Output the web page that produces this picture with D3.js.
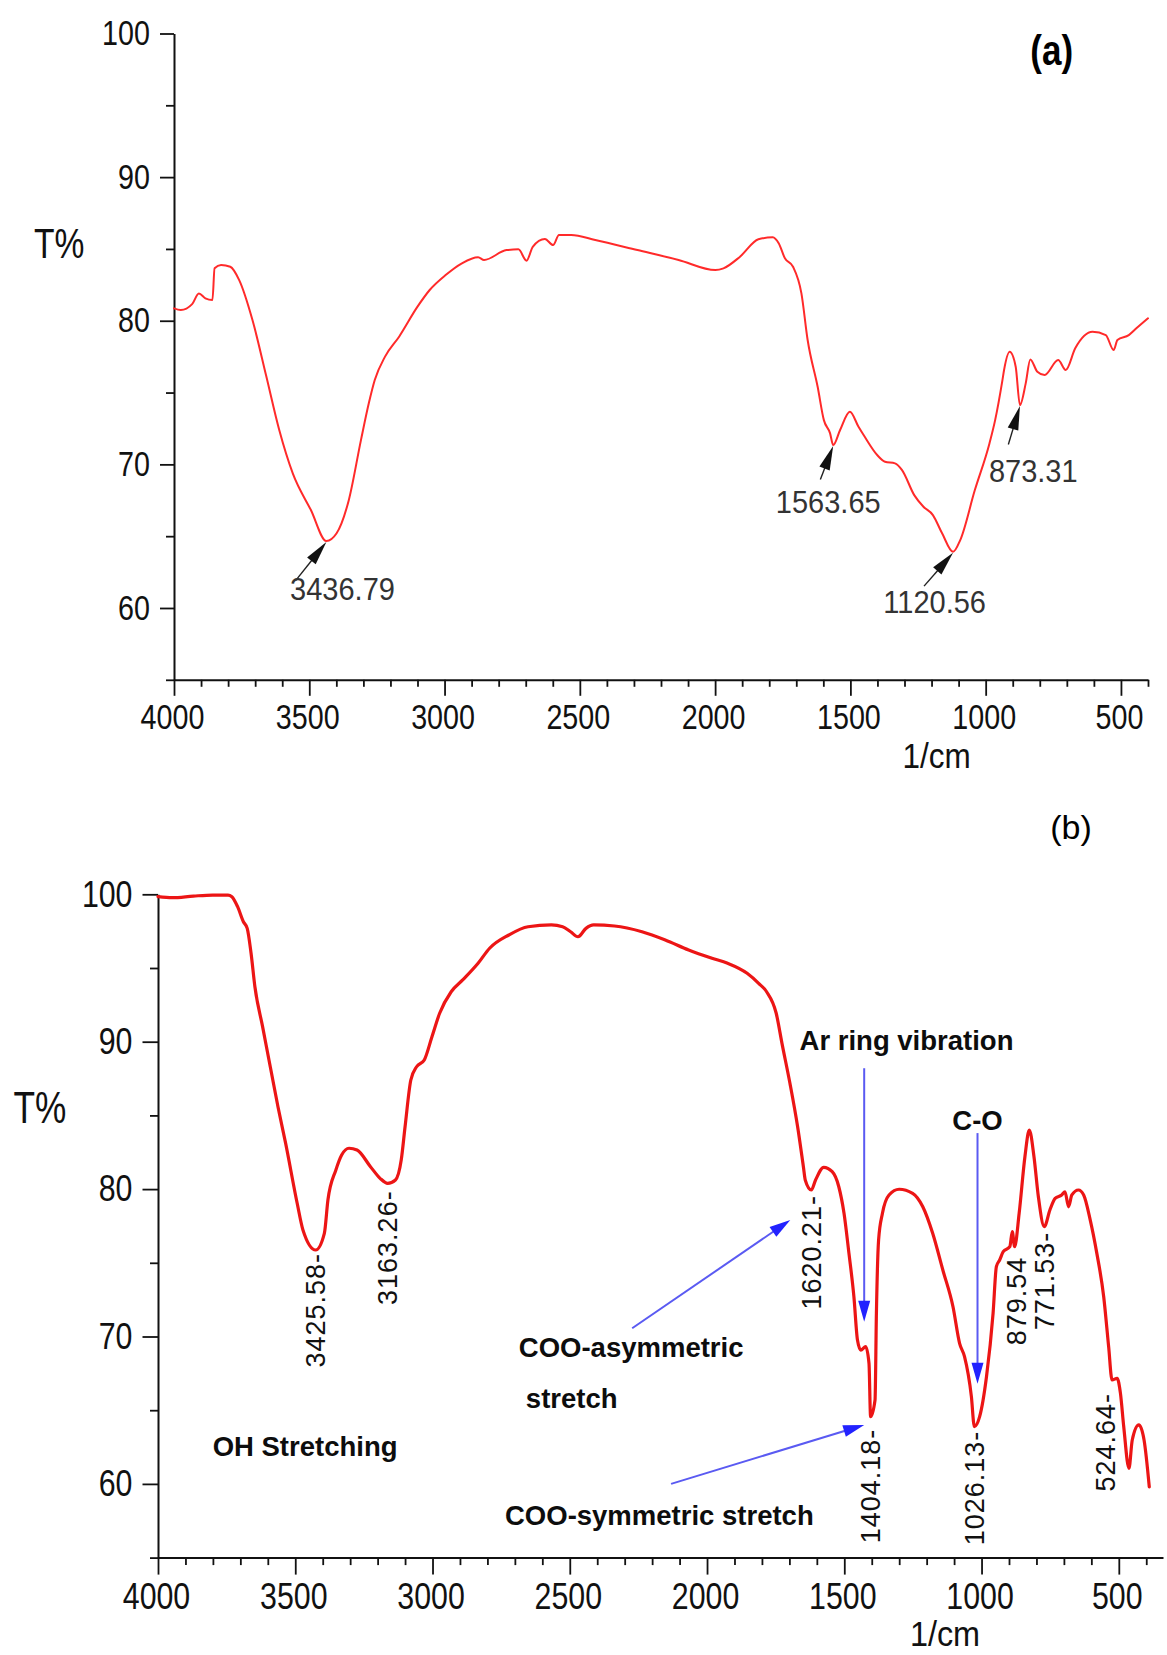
<!DOCTYPE html>
<html>
<head>
<meta charset="utf-8">
<script src="https://cdn.jsdelivr.net/npm/d3@7"></script>
<style>
  html, body { margin: 0; padding: 0; background: #fff; }
  svg { display: block; }
  text { font-family: "Liberation Sans", Arial, Helvetica, sans-serif; }
</style>
</head>
<body>
<svg id="chart" width="1167" height="1655"></svg>
<script>
// ---------- data ----------
// (a) FTIR spectrum: [wavenumber 1/cm, transmittance %]
const spectrumA = [[4000,80.86],[3975,80.75],[3933,81.16],[3908,81.9],[3884,81.56],[3858,81.44],[3850,83.65],[3826,83.88],[3792,83.76],[3759,82.83],[3710,80.05],[3660,76.22],[3611,72.39],[3561,69.37],[3494,66.82],[3436.79,64.66],[3399,65.2],[3354,67.51],[3309,71.69],[3280,74.25],[3258,75.87],[3220,77.5],[3168,78.89],[3100,80.98],[3055,82.14],[2996,83.18],[2936,84.0],[2876,84.42],[2854,84.23],[2771,84.92],[2727,84.97],[2697,84.18],[2674,85.15],[2629,85.69],[2599,85.27],[2577,85.97],[2532,85.97],[2443,85.62],[2287,84.92],[2135,84.23],[1999,83.53],[1969,83.65],[1908,84.46],[1840,85.67],[1787,85.81],[1765,85.39],[1742,84.35],[1712,83.76],[1681,81.91],[1658,78.66],[1621,75.4],[1598,73.08],[1575,72.16],[1563.65,71.34],[1538,72.39],[1502,73.66],[1470,72.62],[1447,71.92],[1401,70.65],[1372,70.18],[1335,70.07],[1309,69.6],[1264,67.86],[1230,67.05],[1195,66.47],[1161,65.2],[1120.56,63.91],[1094,64.73],[1040,68.21],[986,71.46],[965,73.08],[938,75.87],[932,76.57],[911,77.84],[889,76.8],[873.31,74.13],[852,75.64],[835,77.31],[809,76.45],[782,76.22],[732,77.26],[704,76.57],[669,78.08],[605,79.23],[556,79.0],[527,77.96],[513,78.66],[471,79.0],[443,79.47],[400,80.17]];

// (b) FTIR spectrum: [wavenumber 1/cm, transmittance %]
const spectrumB = [[4000,99.84],[3948,99.77],[3871,99.88],[3801,99.95],[3745,99.95],[3731,99.84],[3710,99.16],[3689,98.14],[3675,97.69],[3661,96.0],[3647,93.73],[3619,91.02],[3591,88.3],[3563,85.59],[3535,83.1],[3493,79.04],[3472,77.23],[3425.58,75.87],[3394,77.0],[3381,79.26],[3352,81.3],[3331,82.31],[3304,82.77],[3275,82.65],[3226,81.52],[3191,80.73],[3163.26,80.39],[3135,80.62],[3114,81.97],[3100,84.23],[3079,87.4],[3058,88.3],[3030,88.76],[3002,90.34],[2974,91.93],[2932,93.39],[2890,94.19],[2834,95.32],[2792,96.34],[2722,97.24],[2652,97.8],[2567,97.92],[2526,97.8],[2497,97.46],[2470,97.12],[2441,97.69],[2413,97.92],[2337,97.85],[2237,97.46],[2152,96.9],[2067,96.22],[1982,95.66],[1925,95.32],[1854,94.64],[1812,93.96],[1783,93.39],[1748,91.93],[1727,89.89],[1698,87.18],[1670,84.23],[1649,81.52],[1642,80.6],[1620.21,79.94],[1605,80.6],[1575,81.48],[1544,81.18],[1520,80.16],[1501,78.36],[1483,75.64],[1465,72.7],[1452,69.76],[1440,69.08],[1422,69.31],[1410,68.18],[1404.18,64.56],[1388,65.69],[1383,71.57],[1375,76.55],[1361,78.36],[1337,79.6],[1300,79.99],[1251,79.71],[1214,78.8],[1178,77.0],[1141,74.51],[1104,72.02],[1080,69.54],[1062,68.63],[1037,65.92],[1026.13,63.88],[1007,64.56],[982,67.27],[958,71.57],[946,74.74],[934,75.19],[921,75.75],[897,76.09],[888,77.11],[879.54,76.09],[863,78.36],[842,82.2],[826,84.01],[809,82.2],[793,79.48],[771.53,77.45],[751,78.58],[732,79.37],[708,79.6],[696,79.82],[683,78.8],[671,79.6],[647,79.94],[628,79.6],[604,77.9],[580,75.64],[555,72.7],[537,69.31],[524.64,67.05],[506,67.16],[494,66.14],[482,63.88],[463,61.06],[451,62.98],[427,64.0],[408,62.98],[389,59.8]];

// labelled bands (wavenumbers) in each spectrum
const peaksA = [3436.79, 1563.65, 1120.56, 873.31];
const peaksB = [3425.58, 3163.26, 1620.21, 1404.18, 1026.13, 879.54, 771.53, 524.64];

// axis ticks
const majorX = [4000, 3500, 3000, 2500, 2000, 1500, 1000, 500];
const minorX = [3900,3800,3700,3600,3400,3300,3200,3100,2900,2800,2700,2600,2400,2300,2200,2100,1900,1800,1700,1600,1400,1300,1200,1100,900,800,700,600,400];
const majorY = [60, 70, 80, 90, 100];
const minorY = [55, 65, 75, 85, 95];

// band assignments for (b): text and the arrows pointing to the bands
const assignTexts = [
  { text: "Ar ring vibration", at: [1663, 89.44], anchor: "start" },
  { text: "C-O", at: [1014.7, 84.01], anchor: "middle" },
  { text: "COO-asymmetric", at: [2685.7, 68.61], anchor: "start" },
  { text: "stretch", at: [2660, 65.15], anchor: "start" },
  { text: "COO-symmetric stretch", at: [2736, 57.21], anchor: "start" },
  { text: "OH Stretching", at: [3801, 61.89], anchor: "start" }
];
const assignArrows = [
  { from: [1427.5, 88.2], to: [1427.5, 71.0] },
  { from: [1014.7, 83.8], to: [1014.7, 66.8] },
  { from: [2272.7, 70.56], to: [1696.7, 77.9] },
  { from: [2131, 60.0], to: [1427.5, 64.0] }
];

// ---------- layout ----------
const svg = d3.select("#chart");
svg.append("rect").attr("width", 1167).attr("height", 1655).attr("fill", "#fff");

const panels = {
  a: {
    x: d3.scaleLinear().domain([4000, 400]).range([174, 1148]),
    y: d3.scaleLinear().domain([55, 100]).range([679.8, 33.5]),
    tick: { yMajor: 14, yMinor: 8, yPad: 10, xMajor: 16, xMinor: 7, xPad: 8, size: 35 },
    curve: { color: "#ff2a2a", width: 2 }
  },
  b: {
    x: d3.scaleLinear().domain([4000, 339]).range([158, 1163]),
    y: d3.scaleLinear().domain([55, 100]).range([1557.6, 894.3]),
    tick: { yMajor: 15.5, yMinor: 8, yPad: 10, xMajor: 17, xMinor: 7.5, xPad: 8, size: 37 },
    curve: { color: "#ec1515", width: 3.2 }
  }
};

const tickFmt = d3.format("d");

function place(sel, x, y, sx, sy) {
  sel.attr("transform", `translate(${x},${y}) scale(${sx},${sy})`);
}

function drawAxes(p) {
  const g = svg.append("g").attr("color", "#111");
  const x0 = p.x.range()[0], yBase = p.y.range()[0];
  const t = p.tick;

  const yMin = g.append("g").attr("transform", `translate(${x0},0)`)
    .call(d3.axisLeft(p.y).tickValues(minorY).tickSize(t.yMinor).tickFormat("").tickSizeOuter(0));
  yMin.select(".domain").remove();

  const yMaj = g.append("g").attr("transform", `translate(${x0},0)`)
    .call(d3.axisLeft(p.y).tickValues(majorY).tickFormat(tickFmt).tickSize(t.yMajor).tickPadding(t.yPad).tickSizeOuter(0));

  const xMin = g.append("g").attr("transform", `translate(0,${yBase})`)
    .call(d3.axisBottom(p.x).tickValues(minorX).tickSize(t.xMinor).tickFormat("").tickSizeOuter(0));
  xMin.select(".domain").remove();

  const xMaj = g.append("g").attr("transform", `translate(0,${yBase})`)
    .call(d3.axisBottom(p.x).tickValues(majorX).tickFormat(tickFmt).tickSize(t.xMajor).tickPadding(t.xPad).tickSizeOuter(0));

  g.selectAll(".domain").attr("stroke-width", 2);
  g.selectAll(".tick line").attr("stroke-width", 1.8);
  g.selectAll("g").attr("font-family", null).attr("font-size", null);

  yMaj.selectAll("text").each(function () {
    const s = d3.select(this);
    const xx = +s.attr("x");
    s.attr("x", 0).attr("font-size", t.size);
    place(s, xx, 0, 0.82, 1);
  });
  xMaj.selectAll("text").each(function () {
    const s = d3.select(this);
    const yy = +s.attr("y");
    s.attr("y", 0).attr("font-size", t.size);
    place(s, -2, yy, 0.82, 1);
  });
}

function drawCurve(p, data) {
  const line = d3.line()
    .x(d => p.x(d[0]))
    .y(d => p.y(d[1]))
    .curve(d3.curveMonotoneX);
  svg.append("path").datum(data)
    .attr("d", line)
    .attr("fill", "none")
    .attr("stroke", p.curve.color)
    .attr("stroke-width", p.curve.width)
    .attr("stroke-linejoin", "round")
    .attr("stroke-linecap", "round");
}

function drawArrow(g, p0, p1, s) {
  const dx = p1[0] - p0[0], dy = p1[1] - p0[1];
  const len = Math.hypot(dx, dy);
  const ux = dx / len, uy = dy / len;
  const bx = p1[0] - ux * s.head, by = p1[1] - uy * s.head;
  g.append("line")
    .attr("x1", p0[0]).attr("y1", p0[1])
    .attr("x2", bx + ux * 2).attr("y2", by + uy * 2)
    .attr("stroke", s.line).attr("stroke-width", s.width);
  g.append("path")
    .attr("d", `M${p1[0]},${p1[1]}L${bx - uy * s.half},${by + ux * s.half}L${bx + uy * s.half},${by - ux * s.half}Z`)
    .attr("fill", s.fill);
}

function textAt(txt, x, y, o) {
  const s = svg.append("text")
    .attr("text-anchor", o.anchor || "start")
    .attr("font-size", o.size)
    .attr("font-weight", o.weight || "normal")
    .attr("fill", o.fill || "#111")
    .text(txt);
  if (o.family) s.attr("font-family", o.family);
  if (o.spacing) s.attr("letter-spacing", o.spacing);
  place(s, x, y, o.sx || 1, o.sy || 1);
  return s;
}

const fmt = d3.format(".2f");
function valueAt(data, wn) { return data.find(d => d[0] === wn); }

// ---------- panel (a) ----------
const A = panels.a;
drawAxes(A);
drawCurve(A, spectrumA);

// callout geometry for each labelled band: arrow tail and label start, relative to the band point
const calloutA = [
  { tail: [-30.6, 38.3], text: [-36.3, 58.3] },
  { tail: [-12.8, 33.3], text: [-57.3, 66.7] },
  { tail: [-29, 33.3], text: [-69.7, 60] },
  { tail: [-11.6, 38.4], text: [-31, 76] }
];
const gA = svg.append("g");
peaksA.forEach((wn, i) => {
  const d = valueAt(spectrumA, wn);
  const px = A.x(d[0]), py = A.y(d[1]) + 1;
  const c = calloutA[i];
  drawArrow(gA, [px + c.tail[0], py + c.tail[1]], [px, py],
    { head: 24, half: 5.5, line: "#222", fill: "#111", width: 1.4 });
  textAt(fmt(wn), px + c.text[0], py + c.text[1], { size: 29, fill: "#333", sy: 1.08 });
});

textAt("T%", 34, 258, { size: 42, sx: 0.8 });
textAt("1/cm", 936.5, 768, { size: 35, sx: 0.9, anchor: "middle" });
textAt("(a)", 1051.7, 65, { size: 35, weight: "bold", sy: 1.23, anchor: "middle", fill: "#000" });

// ---------- panel (b) ----------
const B = panels.b;
drawAxes(B);

// band assignment arrows (drawn below the spectrum)
const gB = svg.append("g");
assignArrows.forEach(a => {
  drawArrow(gB, [B.x(a.from[0]), B.y(a.from[1])], [B.x(a.to[0]), B.y(a.to[1])],
    { head: 21, half: 6, line: "#5a5af2", fill: "#2222ff", width: 2 });
});

drawCurve(B, spectrumB);

// peak labels written vertically just below each band
const calloutB = [
  { gap: 3, dx: 0, tick: true },
  { gap: 7, dx: 0, tick: true },
  { gap: 5, dx: 0, tick: true },
  { gap: 12, dx: 0, tick: true },
  { gap: 4, dx: 0, tick: true },
  { gap: 10, dx: 2, tick: false },
  { gap: 5, dx: 0, tick: true },
  { gap: 13, dx: -7, tick: true }
];
peaksB.forEach((wn, i) => {
  const d = valueAt(spectrumB, wn);
  const c = calloutB[i];
  const px = B.x(d[0]) + c.dx, py = B.y(d[1]) + c.gap;
  svg.append("text")
    .attr("transform", `translate(${px},${py}) rotate(-90)`)
    .attr("text-anchor", "end")
    .attr("dy", "0.36em")
    .attr("font-size", 27)
    .attr("letter-spacing", 1)
    .attr("fill", "#111")
    .text(fmt(wn) + (c.tick ? "-" : ""));
});

assignTexts.forEach(t => {
  textAt(t.text, B.x(t.at[0]), B.y(t.at[1]), { size: 27.5, weight: "bold", anchor: t.anchor, fill: "#0d0d0d" });
});

textAt("T%", 13.4, 1123, { size: 44, sx: 0.8 });
textAt("1/cm", 945, 1646, { size: 36, sx: 0.9, anchor: "middle" });
textAt("(b)", 1071, 839, { size: 34, anchor: "middle", family: "'Liberation Serif', 'Times New Roman', serif", fill: "#000" });
</script>
</body>
</html>
